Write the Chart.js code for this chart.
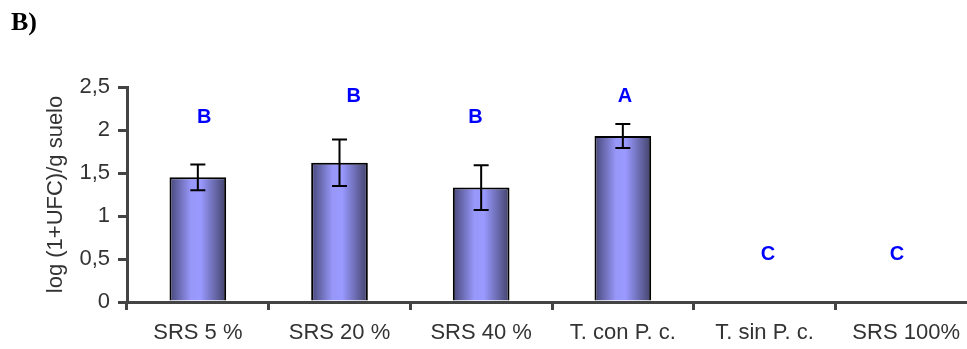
<!DOCTYPE html>
<html>
<head>
<meta charset="utf-8">
<script src="https://cdn.jsdelivr.net/npm/chart.js@4/dist/chart.umd.min.js"></script>
<style>
html,body{margin:0;padding:0;background:#fff;overflow:hidden;}
#wrap{position:relative;width:980px;height:349px;}
canvas{display:block;}
</style>
</head>
<body>
<div id="wrap"><canvas id="c" width="980" height="349"></canvas></div>
<script>
const categories = ['SRS 5 %', 'SRS 20 %', 'SRS 40 %', 'T. con P. c.', 'T. sin P. c.', 'SRS 100%'];
const means = [1.45, 1.62, 1.33, 1.93, 0, 0];
const errors = [0.15, 0.27, 0.26, 0.14, 0, 0];
const letters = ['B', 'B', 'B', 'A', 'C', 'C'];
const letterLevels = [2.14, 2.39, 2.14, 2.39, 0.55, 0.55];
const yTickLabels = ['0', '0,5', '1', '1,5', '2', '2,5'];
const yAxisTitle = 'log (1+UFC)/g suelo';
const panelLabel = 'B)';

// style: horizontal nudge of each letter, in fractions of a category width
const LETTER_NUDGE = [0.045, 0.1, -0.04, 0.015, 0.025, -0.065];
const AXIS_COLOR = '#444444';
const TEXT_COLOR = '#333333';
const BAR_PCT = 0.4;
const FONT = '"Liberation Sans", Arial, sans-serif';

function barGradient(ctx) {
  const c = ctx.chart;
  const xs = c.scales && c.scales.x;
  if (!xs || !c.chartArea) return '#9999ff';
  const cx = xs.getPixelForValue(ctx.dataIndex);
  const w = xs.width / categories.length * BAR_PCT;
  const g = c.ctx.createLinearGradient(cx - w / 2, 0, cx + w / 2, 0);
  g.addColorStop(0, '#464678');
  g.addColorStop(0.38, '#9898fa');
  g.addColorStop(0.55, '#9999ff');
  g.addColorStop(1, '#42426a');
  return g;
}

const overlay = {
  id: 'overlay',
  afterDatasetsDraw(chart) {
    const ctx = chart.ctx;
    const xs = chart.scales.x, ys = chart.scales.y;
    const meta = chart.getDatasetMeta(0);
    const catW = xs.width / categories.length;
    ctx.save();
    ctx.strokeStyle = '#000';
    ctx.lineWidth = 2;
    means.forEach((m, i) => {
      if (!errors[i]) return;
      const x = meta.data[i].x;
      const yt = ys.getPixelForValue(m + errors[i]);
      const yb = ys.getPixelForValue(m - errors[i]);
      ctx.beginPath();
      ctx.moveTo(x, yt); ctx.lineTo(x, yb);
      ctx.moveTo(x - 7.5, yt); ctx.lineTo(x + 7.5, yt);
      ctx.moveTo(x - 7.5, yb); ctx.lineTo(x + 7.5, yb);
      ctx.stroke();
    });
    ctx.fillStyle = '#0000ff';
    ctx.font = 'bold 20px ' + FONT;
    ctx.textAlign = 'center';
    ctx.textBaseline = 'middle';
    letters.forEach((l, i) => {
      ctx.fillText(l, xs.getPixelForValue(i) + LETTER_NUDGE[i] * catW, ys.getPixelForValue(letterLevels[i]));
    });
    ctx.fillStyle = '#000';
    ctx.font = 'bold 26px "Liberation Serif", "Times New Roman", serif';
    ctx.textAlign = 'left';
    ctx.textBaseline = 'alphabetic';
    ctx.fillText(panelLabel, 11, 30);
    ctx.restore();
  }
};

new Chart(document.getElementById('c'), {
  type: 'bar',
  data: {
    labels: categories,
    datasets: [{
      data: means,
      backgroundColor: barGradient,
      borderColor: '#000',
      borderWidth: (ctx) => (means[ctx.dataIndex] ? 2 : 0),
      borderSkipped: 'start',
      barPercentage: BAR_PCT,
      categoryPercentage: 1
    }]
  },
  options: {
    responsive: false,
    animation: false,
    devicePixelRatio: 1,
    layout: { padding: { top: 87, right: 3, left: 0, bottom: 0 } },
    plugins: { legend: { display: false }, tooltip: { enabled: false } },
    scales: {
      x: {
        offset: true,
        afterFit(s) { s.height = 47; },
        grid: { display: true, drawOnChartArea: false, offset: true, tickLength: 8, color: AXIS_COLOR, lineWidth: 3 },
        border: { display: true, color: AXIS_COLOR, width: 3 },
        ticks: { color: TEXT_COLOR, padding: 10, maxRotation: 0, autoSkip: false, font: { family: FONT, size: 22 } }
      },
      y: {
        min: 0, max: 2.5,
        afterFit(s) { s.width = 127; },
        afterBuildTicks(s) {
          s.ticks = yTickLabels.map((t, i) => ({ value: i * 0.5 }));
        },
        grid: { display: true, drawOnChartArea: false, tickLength: 9, color: AXIS_COLOR, lineWidth: 3 },
        border: { display: true, color: AXIS_COLOR, width: 3 },
        ticks: {
          color: TEXT_COLOR, padding: 8,
          font: { family: FONT, size: 22 },
          callback: (v, i) => yTickLabels[i]
        },
        title: {
          display: true, text: yAxisTitle, color: TEXT_COLOR,
          font: { family: FONT, size: 22 },
          padding: { top: 43, bottom: 0 }
        }
      }
    }
  },
  plugins: [overlay]
});
</script>
</body>
</html>
